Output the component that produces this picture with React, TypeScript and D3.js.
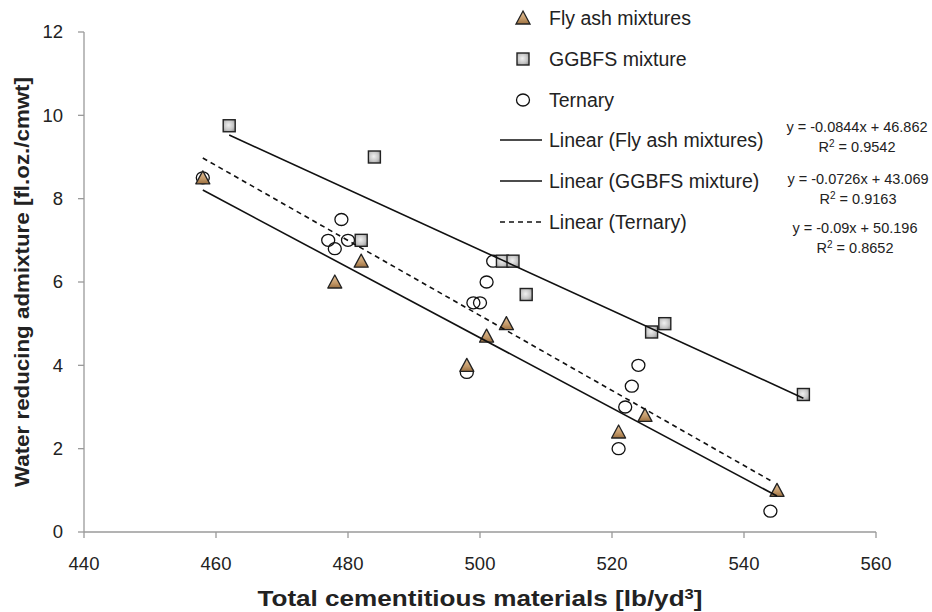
import React from "react";
import * as d3 from "d3";

const flyAshX = [458, 478, 482, 498, 501, 504, 521, 525, 545];
const flyAshY = [8.5, 6.0, 6.5, 4.0, 4.7, 5.0, 2.4, 2.8, 1.0];

const ggbfsX = [462, 484, 482, 503.4, 505, 507, 526, 528, 549];
const ggbfsY = [9.75, 9.0, 7.0, 6.5, 6.5, 5.7, 4.8, 5.0, 3.3];

const ternaryX = [458, 479, 477, 478, 480, 502, 501, 499, 500, 498, 524, 523, 522, 521, 544];
const ternaryY = [8.5, 7.5, 7.0, 6.8, 7.0, 6.5, 6.0, 5.5, 5.5, 3.83, 4.0, 3.5, 3.0, 2.0, 0.5];

// trendline coefficients: slope, intercept (from equations shown)
const trendNames = ["Linear (Fly ash mixtures)", "Linear (GGBFS mixture)", "Linear (Ternary)"];
const trendSlopes = [-0.0844, -0.0726, -0.09];
const trendIntercepts = [46.862, 43.069, 50.196];
const trendR2 = ["0.9542", "0.9163", "0.8652"];
const trendEqs = ["y = -0.0844x + 46.862", "y = -0.0726x + 43.069", "y = -0.09x + 50.196"];

const seriesNames = ["Fly ash mixtures", "GGBFS mixture", "Ternary"];
const xTicks = [440, 460, 480, 500, 520, 540, 560];
const yTicks = [0, 2, 4, 6, 8, 10, 12];

const W = 932;
const H = 612;
const left = 84;
const right = 876;
const top = 32;
const bottom = 532;

export default function App() {
  const x = d3.scaleLinear().domain([440, 560]).range([left, right]);
  const y = d3.scaleLinear().domain([0, 12]).range([bottom, top]);
  const font = "'Liberation Sans', Arial, sans-serif";
  const axisColor = "#9a9a9a";
  const textColor = "#222";

  const tri = (cx: number, cy: number) => {
    const p = d3.path();
    p.moveTo(cx, cy - 7);
    p.lineTo(cx + 7, cy + 6);
    p.lineTo(cx - 7, cy + 6);
    p.closePath();
    return p.toString();
  };

  const seriesXs = [flyAshX, ggbfsX, ternaryX];

  const trends = trendSlopes.map((m, i) => {
    const xs = seriesXs[i];
    const x0 = d3.min(xs) as number;
    const x1 = d3.max(xs) as number;
    return d3
      .line<[number, number]>()
      .x((d) => x(d[0]))
      .y((d) => y(d[1]))([
      [x0, m * x0 + trendIntercepts[i]],
      [x1, m * x1 + trendIntercepts[i]],
    ]) as string;
  });

  const legX = 523;
  const legTextX = 549;
  const legY = [18, 59, 100, 140, 181, 222];
  const eqX = [857, 858, 855];
  const eqY = [127, 179, 228];

  return (
    <svg
      width={W}
      height={H}
      style={{ position: "absolute", left: 0, top: 0, background: "#fff" }}
      fontFamily={font}
    >
      <defs>
        <linearGradient id="triGrad" x1="0" y1="0" x2="0" y2="1">
          <stop offset="0" stopColor="#e2c39c" />
          <stop offset="0.6" stopColor="#c49a6a" />
          <stop offset="1" stopColor="#9c7040" />
        </linearGradient>
        <radialGradient id="sqGrad" cx="0.45" cy="0.45" r="0.7">
          <stop offset="0" stopColor="#f0f0f0" />
          <stop offset="0.6" stopColor="#c4c4c4" />
          <stop offset="1" stopColor="#8a8a8a" />
        </radialGradient>
      </defs>

      {/* axes */}
      <line x1={left} x2={left} y1={top} y2={bottom} stroke={axisColor} strokeWidth={1.3} />
      <line x1={left} x2={right} y1={bottom} y2={bottom} stroke={axisColor} strokeWidth={1.3} />
      {yTicks.map((t) => (
        <g key={"y" + t}>
          <line x1={left - 6} x2={left} y1={y(t)} y2={y(t)} stroke={axisColor} strokeWidth={1.3} />
          <text x={63} y={y(t)} dy="0.35em" textAnchor="end" fontSize={18.5} fill={textColor}>
            {t}
          </text>
        </g>
      ))}
      {xTicks.map((t) => (
        <g key={"x" + t}>
          <line x1={x(t)} x2={x(t)} y1={bottom} y2={bottom + 6} stroke={axisColor} strokeWidth={1.3} />
          <text x={x(t)} y={564} dy="0.35em" textAnchor="middle" fontSize={18.5} fill={textColor}>
            {t}
          </text>
        </g>
      ))}

      {/* axis titles */}
      <text
        x={480}
        y={598}
        dy="0.35em"
        textAnchor="middle"
        fontSize={22}
        fontWeight="bold"
        fill={textColor}
        textLength={445}
        lengthAdjust="spacingAndGlyphs"
      >
        Total cementitious materials [lb/yd<tspan dy="-7" fontSize={14}>3</tspan>
        <tspan dy="7">]</tspan>
      </text>
      <text
        transform={`translate(22,282) rotate(-90)`}
        dy="0.35em"
        textAnchor="middle"
        fontSize={21}
        fontWeight="bold"
        fill={textColor}
        textLength={410}
        lengthAdjust="spacingAndGlyphs"
      >
        Water reducing admixture [fl.oz./cmwt]
      </text>

      {/* markers */}
      {ternaryX.map((v, i) => (
        <ellipse
          key={"c" + i}
          cx={x(v)}
          cy={y(ternaryY[i])}
          rx={6.5}
          ry={6}
          fill="none"
          stroke="#111"
          strokeWidth={1.3}
        />
      ))}
      {ggbfsX.map((v, i) => (
        <rect
          key={"s" + i}
          x={x(v) - 6}
          y={y(ggbfsY[i]) - 6}
          width={12}
          height={12}
          fill="url(#sqGrad)"
          stroke="#222"
          strokeWidth={1.4}
        />
      ))}
      {flyAshX.map((v, i) => (
        <path
          key={"t" + i}
          d={tri(x(v), y(flyAshY[i]))}
          fill="url(#triGrad)"
          stroke="#222"
          strokeWidth={1.3}
          strokeLinejoin="round"
        />
      ))}

      {/* trendlines */}
      {trends.map((d, i) => (
        <path
          key={"tr" + i}
          d={d}
          fill="none"
          stroke="#111"
          strokeWidth={1.6}
          strokeDasharray={i === 2 ? "5,4" : undefined}
        />
      ))}

      {/* legend */}
      <path d={tri(legX, legY[0])} fill="url(#triGrad)" stroke="#222" strokeWidth={1.3} />
      <rect x={legX - 6} y={legY[1] - 6} width={12} height={12} fill="url(#sqGrad)" stroke="#222" strokeWidth={1.4} />
      <ellipse cx={legX} cy={legY[2]} rx={6.5} ry={6} fill="none" stroke="#111" strokeWidth={1.3} />
      {[0, 1, 2].map((i) => (
        <line
          key={"ll" + i}
          x1={500}
          x2={542}
          y1={legY[3 + i]}
          y2={legY[3 + i]}
          stroke="#111"
          strokeWidth={1.6}
          strokeDasharray={i === 2 ? "5,4" : undefined}
        />
      ))}
      {seriesNames.concat(trendNames).map((n, i) => (
        <text key={"lt" + i} x={legTextX} y={legY[i]} dy="0.35em" fontSize={19.5} fill={textColor}>
          {n}
        </text>
      ))}

      {/* equations */}
      {trendEqs.map((e, i) => (
        <g key={"eq" + i}>
          <text x={eqX[i]} y={eqY[i]} dy="0.35em" textAnchor="middle" fontSize={14.5} fill={textColor}>
            {e}
          </text>
          <text x={eqX[i]} y={eqY[i] + 20} dy="0.35em" textAnchor="middle" fontSize={14.5} fill={textColor}>
            R<tspan dy="-5" fontSize={10}>2</tspan>
            <tspan dy="5"> = {trendR2[i]}</tspan>
          </text>
        </g>
      ))}
    </svg>
  );
}
